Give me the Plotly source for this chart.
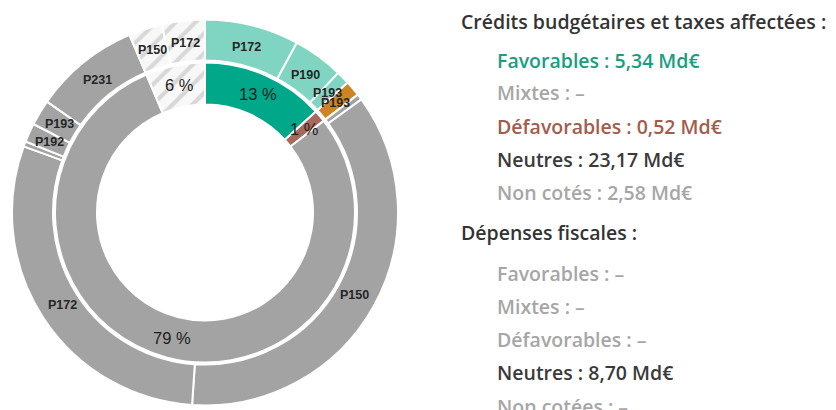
import math
import plotly.graph_objects as go

# ---------------- data ----------------
inner_categories = ["Favorables", "Défavorables", "Neutres", "Non cotés"]
inner_values = [5.34, 0.52, 31.87, 2.58]          # Md€ (crédits + dépenses fiscales)

outer_programs = ["P172", "P190", "P193", "P193", "", "P150", "P172", "", "P192", "P193", "P231", "P150", "P172"]
outer_category = ["Favorables", "Favorables", "Favorables", "Défavorables", "Neutres", "Neutres", "Neutres",
                  "Neutres", "Neutres", "Neutres", "Neutres", "Non cotés", "Non cotés"]
outer_values = [3.18, 1.71, 0.45, 0.52, 0.20, 14.52, 11.89, 0.17, 0.64, 0.87, 3.57, 1.13, 1.45]

title_credits = "Crédits budgétaires et taxes affectées :"
credits_lines = ["Favorables : 5,34 Md€", "Mixtes : –", "Défavorables : 0,52 Md€", "Neutres : 23,17 Md€", "Non cotés : 2,58 Md€"]
title_fiscal = "Dépenses fiscales :"
fiscal_lines = ["Favorables : –", "Mixtes : –", "Défavorables : –", "Neutres : 8,70 Md€", "Non cotées : –"]

# ---------------- styles ----------------
W, H = 836, 410
CX, CY = 205, 212.5        # donut centre (px, from top-left)
R_OUT, R_OUT_HOLE = 193, 152
R_IN, R_IN_HOLE = 150, 108

inner_colors = {"Favorables": "#00a789", "Défavorables": "#a8695c", "Neutres": "#a3a3a3", "Non cotés": "#f8f8f8"}
outer_colors = {"Favorables": "#80d5c2", "Défavorables": "#cc8522", "Neutres": "#a3a3a3", "Non cotés": "#f8f8f8"}

credits_colors = ["#1a9e80", "#a6a6a6", "#a35c4c", "#3a3a3a", "#a6a6a6"]
fiscal_colors = ["#a6a6a6", "#a6a6a6", "#a6a6a6", "#3a3a3a", "#a6a6a6"]


def dom(r):
    return dict(x=[(CX - r) / W, (CX + r) / W], y=[(H - CY - r) / H, (H - CY + r) / H])


def hatch(cats):
    return dict(shape=["/" if c == "Non cotés" else "" for c in cats],
                fgcolor="#d8d8d8", bgcolor="#f8f8f8", size=14, solidity=0.3)


fig = go.Figure()
fig.add_trace(go.Pie(
    values=outer_values, labels=[f"{p} ({c}) {i}" for i, (p, c) in enumerate(zip(outer_programs, outer_category))],
    sort=False, direction="clockwise", rotation=0, hole=R_OUT_HOLE / R_OUT,
    domain=dom(R_OUT), textinfo="none", hoverinfo="skip",
    marker=dict(colors=[outer_colors[c] for c in outer_category],
                line=dict(color="white", width=2), pattern=hatch(outer_category)),
))
fig.add_trace(go.Pie(
    values=inner_values, labels=inner_categories,
    sort=False, direction="clockwise", rotation=0, hole=R_IN_HOLE / R_IN,
    domain=dom(R_IN), textinfo="none", hoverinfo="skip",
    marker=dict(colors=[inner_colors[c] for c in inner_categories],
                line=dict(color="white", width=2), pattern=hatch(inner_categories)),
))


def centroid_angles(values):
    tot = sum(values)
    acc, out = 0.0, []
    for v in values:
        out.append((acc + v / 2) / tot * 360.0)
        acc += v
    return out


def polar_to_paper(theta_deg, r):
    t = math.radians(theta_deg)
    return (CX + r * math.sin(t)) / W, (H - CY + r * math.cos(t)) / H


annotations = []
# outer programme labels
for name, ang in zip(outer_programs, centroid_angles(outer_values)):
    if not name:
        continue
    x, y = polar_to_paper(ang, (R_OUT + R_OUT_HOLE) / 2 - 2)
    annotations.append(dict(x=x, y=y, xref="paper", yref="paper", text=name, showarrow=False,
                            xanchor="center", yanchor="middle",
                            font=dict(family="Liberation Sans, Arial", size=12.5, color="#262626", weight="bold")))
# inner percentage labels
tot = sum(inner_values)
for v, ang in zip(inner_values, centroid_angles(inner_values)):
    x, y = polar_to_paper(ang, (R_IN + R_IN_HOLE) / 2 + 1)
    annotations.append(dict(x=x, y=y, xref="paper", yref="paper", text=f"{round(v / tot * 100)} %",
                            showarrow=False, xanchor="center", yanchor="middle",
                            font=dict(family="Liberation Sans, Arial", size=16.5, color="#1e1e1e")))

# right-hand text block
FONT = "Open Sans"
def add_text(txt, xpx, ypx, color, size=19.5):
    annotations.append(dict(x=xpx / W, y=1 - ypx / H, xref="paper", yref="paper", text=txt, showarrow=False,
                            xanchor="left", yanchor="middle",
                            font=dict(family=FONT, size=size, color=color, weight=600)))

add_text(title_credits, 459, 21, "#333333")
for i, (t, c) in enumerate(zip(credits_lines, credits_colors)):
    add_text(t, 495, 60 + i * 33, c)
add_text(title_fiscal, 459, 233, "#333333")
for i, (t, c) in enumerate(zip(fiscal_lines, fiscal_colors)):
    add_text(t, 495, 273 + i * 33.3, c)

fig.update_layout(
    width=W, height=H, margin=dict(l=0, r=0, t=0, b=0),
    paper_bgcolor="white", plot_bgcolor="white", showlegend=False,
    annotations=annotations,
)
fig.write_html("out.html", config={"displayModeBar": False},
               post_script="document.body.style.margin='0px';")
